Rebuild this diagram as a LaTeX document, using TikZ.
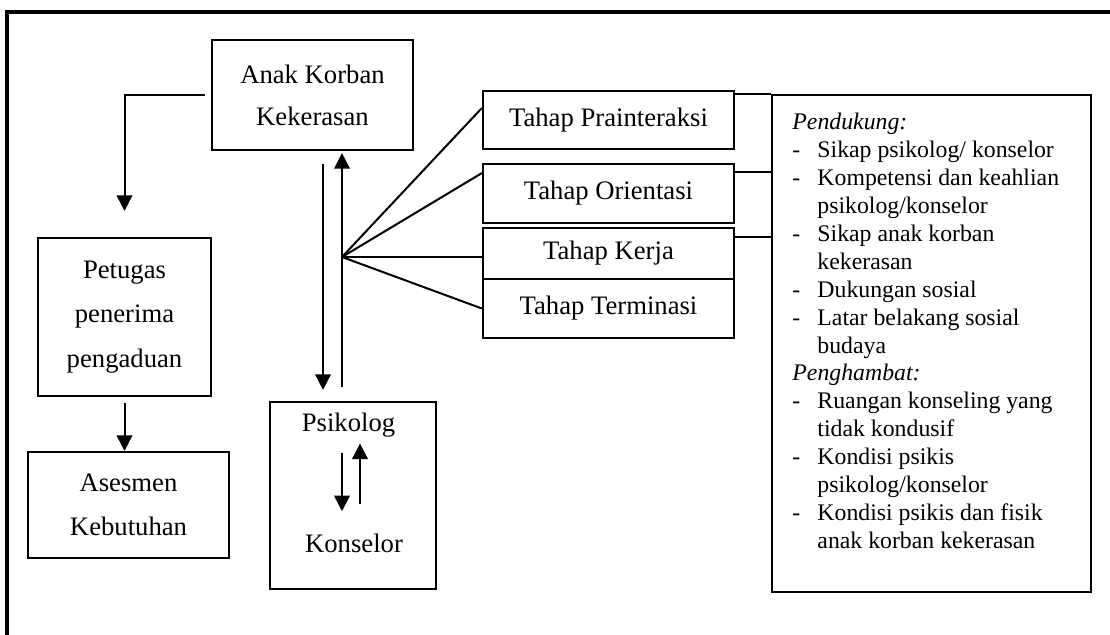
\documentclass[tikz,border=0pt]{standalone}
\usepackage{fontspec}
\setmainfont{Liberation Serif}
\usetikzlibrary{arrows.meta}
\newcommand{\butir}{\makebox[11.25pt][l]{-}}
\newcommand{\lanjut}{\hspace*{11.25pt}}

\begin{document}
\begin{tikzpicture}[x=0.45pt,y=-0.45pt,
        kotak/.style={draw,line width=1pt,inner sep=0pt,align=center,
            font=\fontsize{12pt}{20pt}\selectfont},
        teks/.style={inner sep=0pt,font=\fontsize{12pt}{14pt}\selectfont},
        garis/.style={line width=0.9pt},
        panah/.style={garis,-{Triangle[length=7pt,width=7pt]}}]
    \useasboundingbox(0,0)rectangle(1110,635);
    \draw[line width=1.4pt](7,635)|-(1110,12);
    % kotak kiri
    \node[kotak,minimum width=90.45pt,minimum height=49.5pt,
        font=\fontsize{12pt}{18.9pt}\selectfont](korban)at(312.5,95){Anak Korban\\Kekerasan};
    \node[kotak,minimum width=77.85pt,minimum height=71.1pt](petugas)at(124.5,317){Petugas\\penerima\\pengaduan};
    \node[kotak,minimum width=90.45pt,minimum height=47.7pt](asesmen)at(128.5,505){Asesmen\\Kebutuhan};
    \node[kotak,minimum width=74.7pt,minimum height=84.15pt](konsbox)at(353,495.5){};
    \node[teks](psikolog)at(348.5,425){Psikolog};
    \node[teks](konselor)at(354,543){Konselor};
    % tahap konseling
    \foreach \nama/\y/\h/\teks in {
        pra/120/26.1/Prainteraksi,
        ori/193.5/26.55/Orientasi,
        ker/253.5/22.95/Kerja,
        ter/308.5/26.55/Terminasi}{
            \node[kotak,minimum width=112.95pt,minimum height=\h pt](\nama)at(608.5,\y){Tahap \teks};
        }
    % faktor pendukung dan penghambat
    \node[draw,line width=1pt,inner sep=0pt,minimum width=143.55pt,minimum height=223.65pt](faktor)at(931.5,343.5){};
    \node[anchor=north west,inner sep=0pt,align=left,
        font=\fontsize{10.7pt}{12.55pt}\selectfont](daftar)at(792,113){%
        \textit{Pendukung:}\\
        \butir Sikap psikolog/ konselor\\
        \butir Kompetensi dan keahlian\\
        \lanjut psikolog/konselor\\
        \butir Sikap anak korban\\
        \lanjut kekerasan\\
        \butir Dukungan sosial\\
        \butir Latar belakang sosial\\
        \lanjut budaya\\
        \textit{Penghambat:}\\
        \butir Ruangan konseling yang\\
        \lanjut tidak kondusif\\
        \butir Kondisi psikis\\
        \lanjut psikolog/konselor\\
        \butir Kondisi psikis dan fisik\\
        \lanjut anak korban kekerasan};
    % panah
    \draw[panah,shorten >=11.7pt]([xshift=-2.7pt]korban.west)-|(petugas.north);
    \draw[panah,shorten <=2.7pt](petugas.south)--(petugas.south|-asesmen.north);
    \draw[panah,shorten <=5.85pt,shorten >=4.95pt]([xshift=4.725pt]korban.south)--([xshift=4.725pt]korban.south|-konsbox.north);
    \draw[panah,shorten <=6.3pt,shorten >=0.9pt]([xshift=13.275pt]korban.south|-konsbox.north)--([xshift=13.275pt]korban.south);
    \draw[panah,shorten <=6.75pt,shorten >=9.9pt]([xshift=-2.925pt]psikolog.south)--([xshift=-2.925pt]psikolog.south|-konselor.north);
    \draw[panah,shorten <=13pt,shorten >=2.7pt]([xshift=5.175pt]psikolog.south|-konselor.north)--([xshift=5.175pt]psikolog.south);
    % garis ke tahap
    \coordinate(hub)at(342,257);
    \draw[garis](hub)--([yshift=5.4pt]pra.west);
    \draw[garis](hub)--([yshift=9.2pt]ori.west);
    \draw[garis](hub)--(hub-|ker.west);
    \draw[garis](hub)--(ter.west);
    \draw[garis]([yshift=-2pt]pra.north east)coordinate(c1)--(c1-|faktor.west);
    \draw[garis]([yshift=-4pt]ori.north east)coordinate(c2)--(c2-|faktor.west);
    \draw[garis]([yshift=-4.5pt]ker.north east)coordinate(c3)--(c3-|faktor.west);
\end{tikzpicture}
\end{document}
